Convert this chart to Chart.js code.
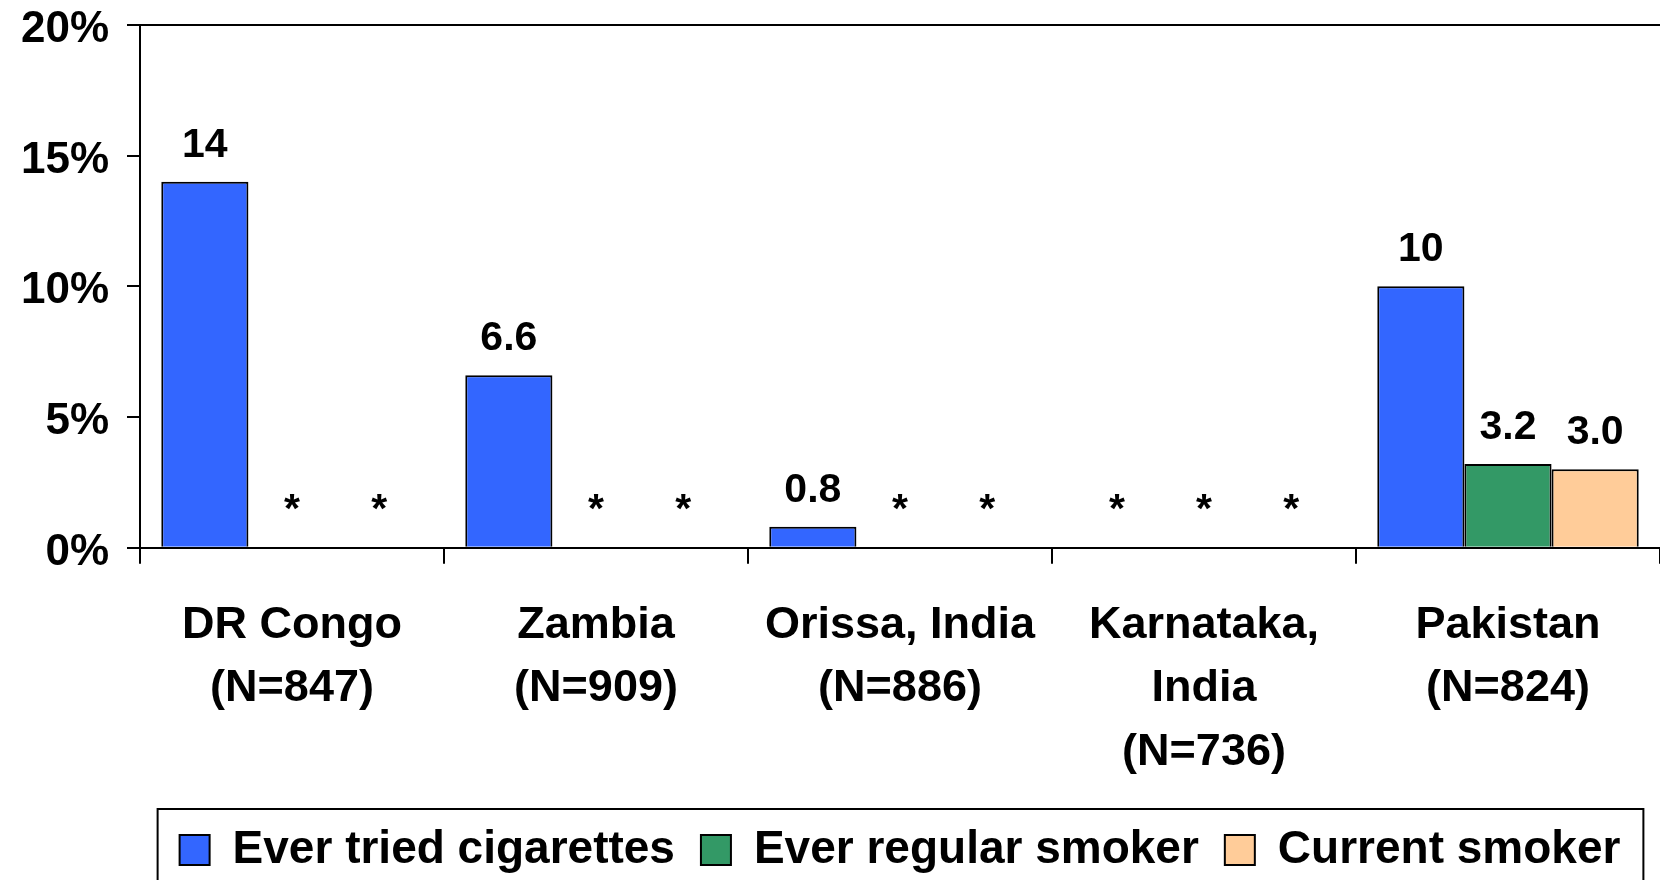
<!DOCTYPE html>
<html><head><meta charset="utf-8">
<script src="https://cdn.jsdelivr.net/npm/chart.js@4.4.1/dist/chart.umd.min.js"></script>
<style>html,body{margin:0;padding:0;background:#fff;} #wrap{width:1660px;height:880px;}</style>
</head><body><div id="wrap"><canvas id="c" width="1660" height="880"></canvas></div>
<script>
const categories = [["DR Congo","(N=847)"],["Zambia","(N=909)"],["Orissa, India","(N=886)"],["Karnataka,","India","(N=736)"],["Pakistan","(N=824)"]];
const seriesNames = ["Ever tried cigarettes","Ever regular smoker","Current smoker"];
const everTried = [14, 6.6, 0.8, null, 10];
const everRegular = [null, null, null, null, 3.2];
const currentSmoker = [null, null, null, null, 3.0];
const yTickMin = 0, yTickMax = 20, yTickStep = 5;
const seriesColors = ['#3366FF','#339966','#FFCC99'];

const FONT = '"Liberation Sans", Arial, sans-serif';

const labelPlugin = {
  id: 'valueLabels',
  afterDatasetsDraw(chart) {
    const ctx = chart.ctx;
    const y0 = chart.scales.y.getPixelForValue(0);
    ctx.save();
    ctx.fillStyle = '#000';
    ctx.textAlign = 'center';
    ctx.textBaseline = 'alphabetic';
    ctx.font = 'bold 41px ' + FONT;
    chart.data.datasets.forEach((ds, di) => {
      const meta = chart.getDatasetMeta(di);
      ds.data.forEach((v, i) => {
        const el = meta.data[i];
        let x = el ? el.x : NaN;
        if (!isFinite(x)) {
          const xs = chart.scales.x;
          const w = xs.width / categories.length * 0.86 / 3;
          x = xs.getPixelForValue(i) + (di - 1) * w;
        }
        if (v === null) {
          ctx.fillText('*', x, y0 - 26);
        } else {
          ctx.fillText(v >= 10 ? v.toFixed(0) : v.toFixed(1), x, el.y - 25);
        }
      });
    });
    ctx.restore();
  },
  afterDraw(chart) {
    const lg = chart.legend;
    const hb = lg.legendHitBoxes;
    if (!hb || !hb.length) return;
    const ctx = chart.ctx;
    const first = hb[0], last = hb[hb.length - 1];
    const cy = first.top + first.height / 2;
    const left = first.left - 22;
    const right = last.left + last.width + 23;
    const top = cy - 41;
    ctx.save();
    ctx.strokeStyle = '#000';
    ctx.lineWidth = 2;
    ctx.strokeRect(left, top, right - left, chart.height + 20 - top);
    ctx.restore();
  }
};

new Chart(document.getElementById('c'), {
  type: 'bar',
  data: {
    labels: categories,
    datasets: [
      { label: seriesNames[0], data: everTried, backgroundColor: seriesColors[0], borderColor: '#000', borderWidth: 2 },
      { label: seriesNames[1], data: everRegular, backgroundColor: seriesColors[1], borderColor: '#000', borderWidth: 2 },
      { label: seriesNames[2], data: currentSmoker, backgroundColor: seriesColors[2], borderColor: '#000', borderWidth: 2 }
    ]
  },
  options: {
    responsive: false,
    animation: false,
    devicePixelRatio: 1,
    categoryPercentage: 0.86,
    barPercentage: 1.0,
    layout: { padding: { top: 25, left: 0, right: -7, bottom: -3 } },
    plugins: {
      tooltip: { enabled: false },
      legend: {
        position: 'bottom',
        fullSize: false,
        labels: {
          color: '#000',
          boxWidth: 30,
          boxHeight: 30,
          padding: 26,
          font: { family: FONT, size: 46, weight: 'bold' }
        }
      }
    },
    scales: {
      x: {
        grid: { color: 'rgba(0,0,0,0)', tickColor: '#000', tickLength: 16, lineWidth: 2, offset: true },
        border: { color: '#000', width: 2 },
        ticks: { color: '#000', padding: 30, maxRotation: 0, autoSkip: false,
          font: { family: FONT, size: 45, weight: 'bold', lineHeight: 1.41 } },
        afterFit: s => { s.height -= 13; s.paddingRight = -7; }
      },
      y: {
        min: yTickMin, max: yTickMax,
        grid: { color: c => (c.tick && c.tick.value === yTickMax) ? '#000' : 'rgba(0,0,0,0)', tickColor: '#000', tickLength: 13, lineWidth: 2 },
        border: { color: '#000', width: 2 },
        ticks: { stepSize: yTickStep, color: '#000', padding: 18, labelOffset: 5,
          font: { family: FONT, size: 44, weight: 'bold' },
          callback: v => v + '%' },
        afterFit: s => { s.width = 140; s.paddingTop = 0; s.paddingBottom = 0; s.paddingRight = -7; }
      }
    }
  },
  plugins: [labelPlugin]
});
</script>
</body></html>
